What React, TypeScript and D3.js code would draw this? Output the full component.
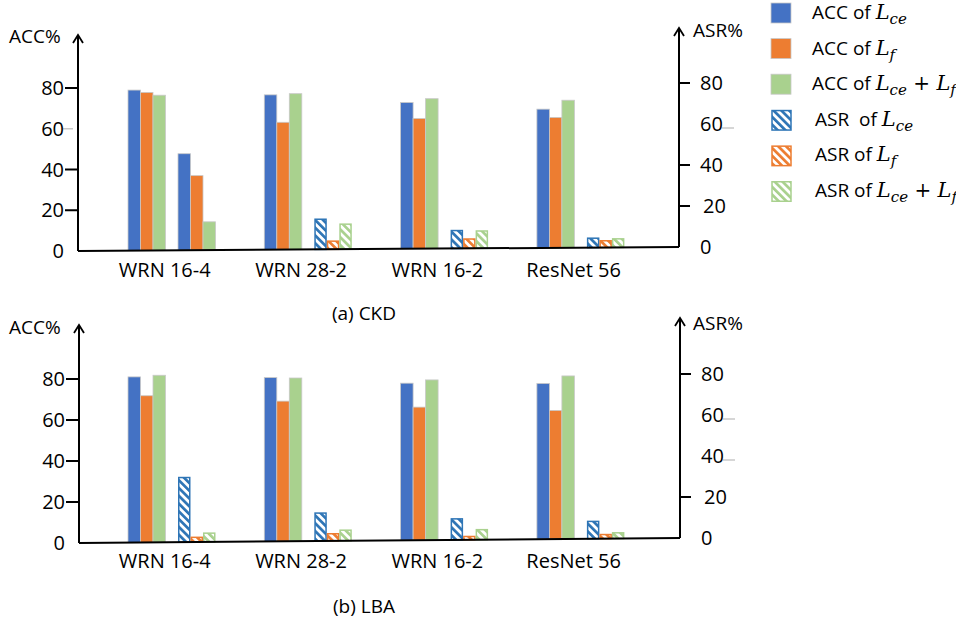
import React from "react";
import * as d3 from "d3";

// ---------- data ----------
const categories = ["WRN 16-4", "WRN 28-2", "WRN 16-2", "ResNet 56"];
const tickValues = [0, 20, 40, 60, 80];

// (a) CKD
const ckdAccCe = [78.8, 76.0, 71.8, 68.1];
const ckdAccF = [77.6, 62.5, 63.9, 64.0];
const ckdAccBoth = [76.2, 76.5, 73.6, 72.4];
const ckdAsrCe = [47.4, 14.8, 8.8, 4.6];
const ckdAsrF = [36.6, 4.0, 4.6, 3.3];
const ckdAsrBoth = [13.9, 12.3, 8.5, 4.2];
const ckdAsrHatched = [false, true, true, true];

// (b) LBA
const lbaAccCe = [81.3, 80.4, 77.1, 76.4];
const lbaAccF = [72.0, 68.8, 65.3, 63.1];
const lbaAccBoth = [82.0, 80.1, 78.6, 80.0];
const lbaAsrCe = [31.7, 13.7, 10.3, 8.5];
const lbaAsrF = [2.3, 3.5, 1.6, 2.0];
const lbaAsrBoth = [4.3, 5.2, 4.9, 2.8];
const lbaAsrHatched = [true, true, true, true];

const legendPrefixes = ["ACC of ", "ACC of ", "ACC of ", "ASR  of ", "ASR of ", "ASR of "];
const legendSubs = [["ce"], ["f"], ["ce", "f"], ["ce"], ["f"], ["ce", "f"]];

// ---------- style ----------
const FONT = "'Open Sans', 'Noto Sans', sans-serif";
const MATH = "'DejaVu Serif', 'Liberation Serif', serif";
const FILL = ["#4472C4", "#ED7D31", "#A9D18E"];
const HATCH = ["#2E75B6", "#ED7D31", "#A9D18E"];

type Geo = {
  lx: number; rx: number; topL: number; topR: number;
  b0L: number; b0R: number; y80L: number; y80R: number;
  labelY: number; accTitleY: number; asrTitleY: number;
  leftGhost: number[]; rightGhost: number[];
};

const topGeo: Geo = {
  lx: 78, rx: 679, topL: 35, topR: 28, b0L: 251, b0R: 247, y80L: 88, y80R: 83,
  labelY: 277, accTitleY: 43, asrTitleY: 37, leftGhost: [60], rightGhost: [60],
};
const botGeo: Geo = {
  lx: 79, rx: 680, topL: 325, topR: 318, b0L: 543, b0R: 538, y80L: 379, y80R: 374,
  labelY: 568, accTitleY: 334, asrTitleY: 330, leftGhost: [], rightGhost: [60, 40],
};

function Arrow({ x, y }: { x: number; y: number }) {
  return (
    <polyline
      points={`${x - 5},${y + 8} ${x},${y} ${x + 5},${y + 8}`}
      fill="none" stroke="#000" strokeWidth={1.8}
    />
  );
}

function Panel({ g, acc, asr, hatched }: { g: Geo; acc: number[][]; asr: number[][]; hatched: boolean[] }) {
  const x = d3.scaleBand<string>().domain(categories).range([128, 624.4]).paddingInner(0.358).paddingOuter(0);
  const slot = d3.scaleBand<string>().domain(d3.range(7).map(String)).range([0, x.bandwidth()]);
  const base = d3.scaleLinear().domain([g.lx, g.rx]).range([g.b0L, g.b0R]);
  const yL = d3.scaleLinear().domain([0, 80]).range([g.b0L, g.y80L]);
  const yR = d3.scaleLinear().domain([0, 80]).range([g.b0R, g.y80R]);
  const h = d3.scaleLinear().domain([0, 80]).range([0, 163]);

  const bars: React.ReactNode[] = [];
  categories.forEach((c, ci) => {
    [0, 1, 2].forEach((si) => {
      const w = slot.bandwidth();
      const xa = (x(c) as number) + (slot(String(si)) as number);
      const va = acc[si][ci];
      bars.push(
        <rect key={`a${ci}${si}`} x={xa} y={base(xa + w / 2) - h(va)} width={w} height={h(va)}
          fill={FILL[si]} stroke="#c8c8c8" strokeWidth={0.8} />
      );
      const xs = (x(c) as number) + (slot(String(si + 4)) as number);
      const vs = asr[si][ci];
      if (hatched[ci]) {
        bars.push(
          <rect key={`s${ci}${si}`} x={xs + 0.75} y={base(xs + w / 2) - h(vs)} width={w - 1.5} height={h(vs)}
            fill={`url(#hatch${si})`} stroke={HATCH[si]} strokeWidth={1.5} />
        );
      } else {
        bars.push(
          <rect key={`s${ci}${si}`} x={xs} y={base(xs + w / 2) - h(vs)} width={w} height={h(vs)}
            fill={FILL[si]} stroke="#c8c8c8" strokeWidth={0.8} />
        );
      }
    });
  });

  return (
    <g fontFamily={FONT}>
      {bars}
      {/* axes */}
      <line x1={g.lx} y1={g.topL} x2={g.lx} y2={g.b0L} stroke="#000" strokeWidth={2} />
      <line x1={g.rx} y1={g.topR} x2={g.rx} y2={g.b0R} stroke="#000" strokeWidth={2} />
      <line x1={g.lx} y1={g.b0L} x2={g.rx} y2={g.b0R} stroke="#000" strokeWidth={2} />
      <Arrow x={g.lx} y={g.topL} />
      <Arrow x={g.rx} y={g.topR} />
      <text x={9} y={g.accTitleY} fontSize={19}>ACC%</text>
      <text x={693} y={g.asrTitleY} fontSize={19}>ASR%</text>
      {tickValues.map((t) => (
        <g key={`l${t}`}>
          {t > 0 && !g.leftGhost.includes(t) && (
            <line x1={g.lx - 13} x2={g.lx} y1={yL(t)} y2={yL(t)} stroke="#000" strokeWidth={2} />
          )}
          {g.leftGhost.includes(t) && (
            <line x1={g.lx - 15} x2={g.lx - 5} y1={yL(t)} y2={yL(t)} stroke="#c8c8c8" strokeWidth={1.5} />
          )}
          <text x={g.lx - 14} y={yL(t) + 7} textAnchor="end" fontSize={20}>{t}</text>
        </g>
      ))}
      {tickValues.map((t) => (
        <g key={`r${t}`}>
          {t > 0 && !g.rightGhost.includes(t) && (
            <line x1={g.rx} x2={g.rx + 11} y1={yR(t)} y2={yR(t)} stroke="#000" strokeWidth={2} />
          )}
          {g.rightGhost.includes(t) && (
            <line x1={g.rx + 43} x2={g.rx + 55} y1={yR(t) + 4} y2={yR(t) + 4} stroke="#c8c8c8" strokeWidth={1.5} />
          )}
          <text x={g.rx + (t === 20 ? 24 : 21)} y={yR(t) + 7} fontSize={20}>{t}</text>
        </g>
      ))}
      {categories.map((c) => (
        <text key={c} x={(x(c) as number) + x.bandwidth() / 2 - 7} y={g.labelY} textAnchor="middle" fontSize={20}>
          {c}
        </text>
      ))}
    </g>
  );
}

function Legend() {
  const rowY = (i: number) => 3 + i * 35.6;
  return (
    <g fontFamily={FONT}>
      {legendPrefixes.map((p, i) => {
        const si = i % 3;
        const hatch = i >= 3;
        const y = rowY(i);
        return (
          <g key={i}>
            {hatch ? (
              <rect x={772} y={y + 0.75} width={19} height={19.5} fill={`url(#hatch${si})`} stroke={HATCH[si]} strokeWidth={1.5} />
            ) : (
              <rect x={771} y={y} width={20} height={20} fill={FILL[si]} stroke="#c8c8c8" strokeWidth={0.8} />
            )}
            <text x={hatch ? 815 : 812} y={y + 16} fontSize={19} style={{ whiteSpace: "pre" }}>
              <tspan>{p}</tspan>
              {legendSubs[i].map((s, k) => (
                <React.Fragment key={k}>
                  {k > 0 && (
                    <tspan fontFamily={MATH} fontSize={20} dy={-5}>{" + "}</tspan>
                  )}
                  <tspan fontFamily={MATH} fontStyle="italic" fontSize={21}>L</tspan>
                  <tspan fontFamily={MATH} fontStyle="italic" fontSize={15} dy={5}>{s}</tspan>
                </React.Fragment>
              ))}
            </text>
          </g>
        );
      })}
    </g>
  );
}

export default function App() {
  return (
    <svg width={956} height={622} style={{ position: "absolute", left: 0, top: 0, background: "#fff" }}>
      <defs>
        {HATCH.map((c, i) => (
          <pattern key={i} id={`hatch${i}`} patternUnits="userSpaceOnUse" width={5.5} height={5.5}
            patternTransform="rotate(-45)">
            <rect width={5.5} height={5.5} fill="#fff" />
            <rect width={2.7} height={5.5} fill={c} />
          </pattern>
        ))}
      </defs>
      <rect width={956} height={622} fill="#fff" />
      <Panel g={topGeo} acc={[ckdAccCe, ckdAccF, ckdAccBoth]} asr={[ckdAsrCe, ckdAsrF, ckdAsrBoth]} hatched={ckdAsrHatched} />
      <Panel g={botGeo} acc={[lbaAccCe, lbaAccF, lbaAccBoth]} asr={[lbaAsrCe, lbaAsrF, lbaAsrBoth]} hatched={lbaAsrHatched} />
      <text x={364} y={320} textAnchor="middle" fontFamily={FONT} fontSize={19}>(a) CKD</text>
      <text x={364} y={613} textAnchor="middle" fontFamily={FONT} fontSize={19}>(b) LBA</text>
      <Legend />
    </svg>
  );
}
